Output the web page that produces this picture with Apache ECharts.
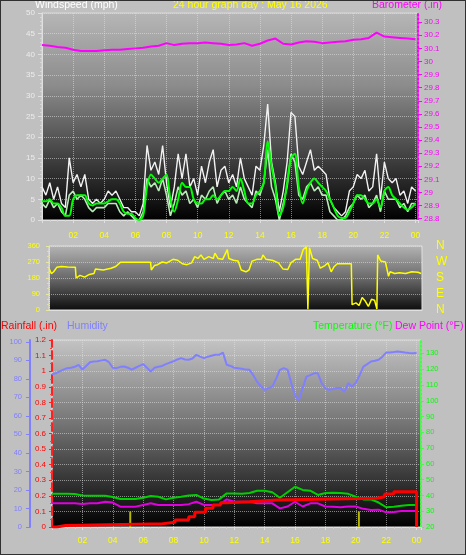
<!DOCTYPE html>
<html><head><meta charset="utf-8">
<script src="https://cdn.jsdelivr.net/npm/echarts@6/dist/echarts.min.js"></script>
<style>
html,body{margin:0;padding:0;background:#c0c0c0;}
#c{width:466px;height:555px;position:absolute;left:0;top:0}
#f{position:absolute;left:0;top:0;width:464px;height:553px;border:1px solid #303030;pointer-events:none}
</style>
</head><body><div id="c"></div><div id="f"></div>
<script>
// ---------- texts ----------
const titleWind = 'Windspeed (mph)';
const titleDate = '24 hour graph day : May 16 2026';
const titleBaro = 'Barometer (.in)';
const titleRain = 'Rainfall (.in)';
const titleHum = 'Humidity';
const titleTemp = 'Temperature (°F)';
const titleDew = 'Dew Point (°F)';
const hourLabels = ['02','04','06','08','10','12','14','16','18','20','22','00'];
const dirLetters = {0:'N',90:'E',180:'S',270:'W',360:'N'};
const baroTicks = [28.8,28.9,29,29.1,29.2,29.3,29.4,29.5,29.6,29.7,29.8,29.9,30,30.1,30.2,30.3];
const humTicks = [0,10,20,30,40,50,60,70,80,90,100];
const tempTicks = [20,30,40,50,60,70,80,90,100,110,120,130];

// ---------- wind speed (mph), every 15 min from 00:00 to 24:00 ----------
const windStep = 0.25;
const windGust = [
 8,6,9,5, 8,4,3,15, 9,11,8,11, 5,4,5,4, 5,7,6,7, 5,3,3,2,
 2,1,4,18, 12,14,11,18, 9,3,8,16, 10,16,8,10, 6,13,9,14, 17,8,12,13,
 9,11,8,15, 10,8,6,13, 12,18,28,14, 9,2,7,14, 26,25,13,11, 14,17,12,13,
 12,11,5,3, 2,1,2,7, 8,11,10,12, 7,8,16,5, 14,10,9,10, 6,7,4,8, 7];
const windAvg = [
 4,3,5,3, 4,2,1,6, 7,5,6,5, 3,2,3,3, 3,4,4,4, 2,1,2,1,
 0,0,2,10, 8,9,7,10, 6,1,4,8, 6,7,4,5, 3,6,5,7, 8,4,6,7,
 5,6,4,8, 5,4,3,7, 6,9,17,8, 5,0,4,8, 16,14,6,5, 8,9,7,8,
 6,6,2,1, 0,0,1,3, 4,6,5,6, 3,4,6,2, 7,5,5,5, 3,4,2,4, 4];
const windTenMin = [
 4.5,4.5,5,4, 4,3,1,1, 5,6,6,6, 4,3.5,4,4, 4,4.5,5,5, 4,2,1.5,1.5,
 0.5,0,1,8, 11,10,9,10, 11,5,2,5, 9,8,8,5, 4,4,5,5, 6,5,6,7,
 7,8,7,10, 7,4,4,6, 7,9,19,13, 8,1,3,9, 15,16,8,4, 7,9,10,9,
 8,7,5,3, 1,0.5,0.5,2, 4,6,6,5, 4,4,5,3, 7,8,6,5, 4,3,2.5,3, 4];

// ---------- barometer (in), every 30 min ----------
const baroStep = 0.5;
const baro = [30.125,30.12,30.11,30.105,30.09,30.08,30.08,30.08,30.085,30.09,30.09,30.095,
 30.10,30.105,30.115,30.12,30.14,30.125,30.135,30.14,30.14,30.145,30.14,30.135,
 30.125,30.13,30.14,30.12,30.135,30.16,30.175,30.135,30.13,30.145,30.155,30.15,
 30.14,30.145,30.15,30.155,30.165,30.17,30.18,30.22,30.19,30.185,30.18,30.175,30.17];

// ---------- wind direction (deg) ----------
const dirTimes = [0,0.15,0.3,0.5,0.8,1.2,1.7,1.75,2.0,2.3,2.6,2.9,3.0,3.5,4.0,4.3,4.6,5.5,6.0,6.55,6.6,6.8,7.0,7.3,7.6,8.0,8.3,8.6,8.9,9.2,9.4,9.6,9.8,10.0,10.3,10.6,10.7,10.9,11.2,11.5,11.6,11.9,12.2,12.4,12.7,12.9,13.1,13.4,13.7,13.8,14.0,14.4,14.8,15.1,15.4,15.6,15.9,16.2,16.4,16.6,16.7,16.8,17.0,17.3,17.5,17.8,18.0,18.2,18.4,18.6,19.5,19.55,19.8,20.0,20.2,20.4,20.6,20.8,21.0,21.1,21.15,21.2,21.4,21.7,21.9,22.0,22.3,22.6,23.0,23.4,23.8,24.0];
const dirValues = [235,205,215,240,245,242,240,180,195,185,200,205,230,225,235,245,268,268,268,268,225,250,255,270,265,285,280,260,255,265,300,290,310,285,300,290,320,290,285,340,290,280,275,225,215,225,275,285,285,310,285,280,265,230,228,265,285,285,340,355,5,350,290,280,235,250,265,215,245,260,260,30,40,25,70,50,20,60,55,55,5,310,275,270,190,215,205,210,205,215,212,205];

// ---------- humidity (%), every 15 min ----------
const humStep = 0.25;
const humidity = [
 82.5,83,84,85, 85.8,86,86.5,87.6, 85,87,89,89.4, 89.5,90,90.3,89, 86,85.8,86.5,86.7, 86,85,86,87,
 88,86,84,86, 86.5,87,88,88.8, 89.5,90.5,91.2,90.5, 90.3,91,93,92, 91.2,92,92.5,93, 93,94.2,87.6,87,
 86,85.8,85.5,85, 84.9,82,78.5,76, 74,75,75.8,80, 84.9,85.8,85,77.7, 71,68.6,75,81.2, 82,83,83,77.7,
 75,74,74.5,75.1, 75.1,73,77.7,75.8, 78,82,86.6,88, 89.4,89.8,90.3,92, 94.2,94.3,94.5,94.8, 94.5,94.2,94,93.9, 94];

// ---------- temperature and dew point (°F), every 30 min ----------
const tdStep = 0.5;
const temperature = [41,41,41,40.9,40,39.8,39.8,39.8,39,37.7,37.7,37.7,
 38.5,39.6,39.2,37.5,38.5,39.2,40,40.3,38,37.1,37.5,41.3,
 41.3,41,41.5,43,43,42,38.5,42,45.5,43.5,43,40.3,
 41.5,41.7,41.5,41,39.2,37.5,37.5,35.5,32.5,32.9,33.5,34, 34];
const dewPoint = [35,35,35,35,34.6,35,35,36,35.5,32.9,32.9,32.9,
 34,35,34,33.9,33.9,33.9,34.5,36,34,33.9,33.9,37.5,
 36,36,36,35,35,35,31.8,33,36,33,35,35,
 33,32.9,32.5,33,33,31.5,30.8,31,29.3,29.5,30.1,30.1, 30.1];

// ---------- rainfall (in), cumulative ----------
const rainTimes = [0,0.3,0.9,6.5,7.2,8.1,9.0,9.4,10.1,10.6,11.1,11.5,13.0,14.8,21.4,21.9,22.5,24,24];
const rainValues = [0,0.01,0.02,0.02,0.03,0.045,0.066,0.094,0.12,0.141,0.156,0.162,0.173,0.184,0.194,0.212,0.226,0.226,0];
const rainRateTimes = [5.15,20.2];
const rainRateValues = [0.1,0.1];

// ---------- helpers ----------
const stepPairs = (step, vals) => vals.map((v,i)=>[i*step, v]);
const zip = (ts, vs) => ts.map((t,i)=>[t, vs[i]]);
const hourFmt = v => { const k = Math.round(v); if (Math.abs(v-k)>1e-6 || k<=0 || k%2) return ''; return hourLabels[k/2-1]; };
const grad = stops => new echarts.graphic.LinearGradient(0,0,0,1, stops.map(s=>({offset:s[0],color:s[1]})));
const FONT = 'Liberation Sans, Arial, sans-serif';
const dotted = {color:'rgba(225,225,225,0.55)', type:'dotted', width:1};

const chart = echarts.init(document.getElementById('c'), null, {renderer:'canvas'});

const tt = (text, left, top, color, size) => ({text, left, top, padding:0, itemGap:0,
  textStyle:{color, fontSize:size||10.5, fontWeight:'normal', fontFamily:FONT}});

chart.setOption({
  animation:false,
  backgroundColor:'#c0c0c0',
  title:[
    tt(titleWind, 35, 0, '#ffffff'),
    tt(titleDate, 173, 0, '#ffff00'),
    tt(titleBaro, 372, 0, '#ff00ff'),
    tt(titleRain, 1, 321, '#ff0000'),
    tt(titleHum, 67, 321, '#8080ff'),
    tt(titleTemp, 313, 321, '#00ff00'),
    tt(titleDew, 395, 321, '#ff00ff')
  ],
  grid:[
    {left:42, top:13, width:376, height:207, show:true, borderColor:'#dadada', borderWidth:1,
     backgroundColor:grad([[0,'#b6b6b6'],[0.35,'#8c8c8c'],[0.7,'#404040'],[1,'#000000']])},
    {left:49, top:246, width:373, height:64, show:true, borderColor:'#e0e0e0', borderWidth:1,
     backgroundColor:grad([[0,'#b4b4b4'],[0.5,'#6a6a6a'],[1,'#0c0c0c']])},
    {left:52, top:340, width:369, height:187, show:true, borderColor:'#dadada', borderWidth:1,
     backgroundColor:grad([[0,'#c4c4c4'],[0.45,'#747474'],[0.8,'#2a2a2a'],[1,'#000000']])}
  ],
  xAxis:[
    {gridIndex:0, type:'value', min:0, max:24.16, interval:2,
     axisLine:{lineStyle:{color:'#e0e0e0'}}, axisTick:{lineStyle:{color:'#e0e0e0'}, length:3},
     minorTick:{show:true, splitNumber:4, length:2, lineStyle:{color:'#d0d0d0'}},
     axisLabel:{formatter:hourFmt, color:'#ffff00', fontSize:8.5, margin:11, fontFamily:FONT, showMinLabel:false},
     splitLine:{show:true, lineStyle:dotted}},
    {gridIndex:1, type:'value', min:0, max:24.06, interval:2,
     axisLine:{lineStyle:{color:'#e0e0e0'}}, axisTick:{show:false}, axisLabel:{show:false}, splitLine:{show:false}},
    {gridIndex:2, type:'value', min:0, max:24.29, interval:2,
     axisLine:{lineStyle:{color:'#e0e0e0'}}, axisTick:{lineStyle:{color:'#e0e0e0'}, length:3},
     minorTick:{show:true, splitNumber:4, length:2, lineStyle:{color:'#d0d0d0'}},
     axisLabel:{formatter:hourFmt, color:'#ffff00', fontSize:8.5, margin:9, fontFamily:FONT, showMinLabel:false},
     splitLine:{show:true, lineStyle:dotted}}
  ],
  yAxis:[
    {gridIndex:0, type:'value', min:0, max:50, interval:5, position:'left',
     axisLine:{show:true, lineStyle:{color:'#e0e0e0'}}, axisTick:{show:true, length:4, lineStyle:{color:'#e0e0e0'}},
     minorTick:{show:true, splitNumber:5, length:2, lineStyle:{color:'#d8d8d8'}},
     axisLabel:{color:'#ececec', fontSize:8, margin:7, fontFamily:FONT},
     splitLine:{show:true, lineStyle:dotted}},
    {gridIndex:0, type:'value', min:28.79, max:30.37, position:'right',
     axisLine:{show:true, lineStyle:{color:'#ff00ff', type:'dotted', width:2}},
     axisTick:{show:true, customValues:baroTicks, length:4, lineStyle:{color:'#ff00ff'}},
     axisLabel:{customValues:baroTicks, formatter:v=>String(Math.round(v*10)/10), color:'#ff00ff', fontSize:8, margin:6, fontFamily:FONT},
     splitLine:{show:false}},
    {gridIndex:1, type:'value', min:0, max:360, interval:90, position:'left',
     axisLine:{show:true, lineStyle:{color:'#e8e8a0', type:'dotted'}}, axisTick:{show:true, length:3, lineStyle:{color:'#e8e8a0'}},
     minorTick:{show:true, splitNumber:3, length:2, lineStyle:{color:'#e0e0a0'}},
     axisLabel:{color:'#ffff00', fontSize:7.5, margin:9, fontFamily:FONT},
     splitLine:{show:true, lineStyle:dotted}},
    {gridIndex:1, type:'value', min:0, max:360, interval:90, position:'right',
     axisLine:{show:false}, axisTick:{show:false},
     axisLabel:{formatter:v=>dirLetters[v]||'', color:'#ffff00', fontSize:12, margin:14, fontFamily:FONT},
     splitLine:{show:false}},
    {gridIndex:2, type:'value', min:0, max:1.2, interval:0.1, position:'left',
     axisLine:{show:true, lineStyle:{color:'#ff2020', type:'dashed', width:2}},
     axisTick:{show:true, length:3, lineStyle:{color:'#ff2020'}},
     minorTick:{show:true, splitNumber:2, length:2, lineStyle:{color:'#ff4040'}},
     axisLabel:{formatter:v=>String(Math.round(v*10)/10), color:'#ff0000', fontSize:8, margin:6, fontFamily:FONT},
     splitLine:{show:true, lineStyle:dotted}},
    {gridIndex:2, type:'value', min:0, max:101, position:'left', offset:22,
     axisLine:{show:true, lineStyle:{color:'#8080ff', width:2}},
     axisTick:{show:true, customValues:humTicks, length:4, lineStyle:{color:'#8080ff'}},
     axisLabel:{customValues:humTicks, color:'#8080ff', fontSize:7.5, margin:8, fontFamily:FONT},
     splitLine:{show:false}},
    {gridIndex:2, type:'value', min:20, max:138.5, position:'right',
     axisLine:{show:true, lineStyle:{color:'#40ff40', type:'dotted', width:2}},
     axisTick:{show:true, customValues:tempTicks, length:3, lineStyle:{color:'#40ff40'}},
     axisLabel:{customValues:tempTicks, color:'#00ff00', fontSize:7.5, margin:5, fontFamily:FONT},
     splitLine:{show:false}}
  ],
  series:[
    {type:'line', name:'Gust', xAxisIndex:0, yAxisIndex:0, data:stepPairs(windStep, windGust),
     showSymbol:false, lineStyle:{color:'#f2f2f2', width:1.4}},
    {type:'line', name:'Average', xAxisIndex:0, yAxisIndex:0, data:stepPairs(windStep, windAvg),
     showSymbol:false, lineStyle:{color:'#b8eab8', width:1.6}},
    {type:'line', name:'10 min', xAxisIndex:0, yAxisIndex:0, data:stepPairs(windStep, windTenMin), smooth:0.3,
     showSymbol:false, lineStyle:{color:'#00ff00', width:2}},
    {type:'line', name:'Barometer', xAxisIndex:0, yAxisIndex:1, data:stepPairs(baroStep, baro),
     showSymbol:false, lineStyle:{color:'#ff00ff', width:2}},
    {type:'line', name:'Direction', xAxisIndex:1, yAxisIndex:2, data:zip(dirTimes, dirValues),
     showSymbol:false, lineStyle:{color:'#ffff00', width:1.5}},
    {type:'bar', name:'Rain rate', xAxisIndex:2, yAxisIndex:4, data:zip(rainRateTimes, rainRateValues),
     barWidth:2, itemStyle:{color:'#b8b800'}},
    {type:'line', name:'Humidity', xAxisIndex:2, yAxisIndex:5, data:stepPairs(humStep, humidity),
     showSymbol:false, lineStyle:{color:'#8080ff', width:2}},
    {type:'line', name:'Temperature', xAxisIndex:2, yAxisIndex:6, data:stepPairs(tdStep, temperature),
     showSymbol:false, lineStyle:{color:'#00d000', width:2}},
    {type:'line', name:'Dew Point', xAxisIndex:2, yAxisIndex:6, data:stepPairs(tdStep, dewPoint),
     showSymbol:false, lineStyle:{color:'#e000e0', width:2}},
    {type:'line', name:'Rain', xAxisIndex:2, yAxisIndex:4, data:zip(rainTimes, rainValues), step:'end',
     showSymbol:false, lineStyle:{color:'#ff0000', width:3}}
  ]
});
</script>
</body></html>
